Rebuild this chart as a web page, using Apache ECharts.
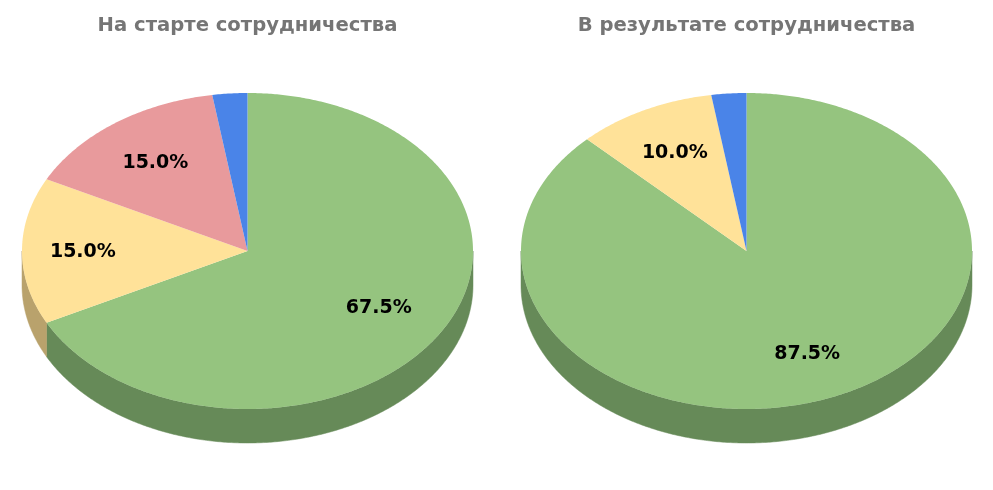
<!DOCTYPE html>
<html>
<head>
<meta charset="utf-8">
<style>html,body{margin:0;padding:0;background:#fff}#chart{width:993px;height:490px}</style>
<script src="https://cdn.jsdelivr.net/npm/echarts@6/dist/echarts.min.js"></script>
</head>
<body>
<div id="chart"></div>
<script>
// Shares of each pie, clockwise from twelve o'clock
const titles = ['На старте сотрудничества', 'В результате сотрудничества'];
const startValues = [67.5, 15.0, 15.0, 2.5];
const resultValues = [87.5, 10.0, 2.5];
const startColors = ['#95c47f', '#ffe299', '#e89a9c', '#4a84e8'];
const resultColors = ['#95c47f', '#ffe299', '#4a84e8'];
const startWalls = ['#668a58', '#b9a26c', '#a06c6e', '#33599f'];
const resultWalls = ['#668a58', '#b9a26c', '#33599f'];
// Distance of each label from the centre, as a fraction of the radius
const startLabelReach = [0.683, 0.73, 0.695, 0.7];
const resultLabelReach = [0.703, 0.7, 0.7];

// Tilted-disc geometry shared by both pies
const RX = 225.5, RY = 158, DEPTH = 34, CY = 251, STEP = 0.5;
const LABEL_DROP = 0.8;
const MIN_LABELLED = 5;

function rimPoint(cx, deg, drop) {
  const a = deg * Math.PI / 180;
  return [cx + RX * Math.sin(a), CY - RY * Math.cos(a) + drop];
}

function arc(cx, from, to, drop) {
  const pts = [];
  for (let d = from; d < to; d += STEP) pts.push(rimPoint(cx, d, drop));
  pts.push(rimPoint(cx, to, drop));
  return pts;
}

function tiltedPie(cx, values, colors, walls, reach) {
  const total = values.reduce((s, v) => s + v, 0);
  let running = 0;
  const data = values.map((v) => {
    const row = [v, running];
    running += v;
    return row;
  });
  return {
    type: 'custom',
    coordinateSystem: 'none',
    silent: true,
    clip: false,
    data: data,
    renderItem: function (params, api) {
      const i = params.dataIndex;
      const value = api.value(0);
      const from = api.value(1) / total * 360;
      const to = from + value / total * 360;
      const children = [];

      // The wall only shows along the near half of the rim
      const wallFrom = Math.max(from, 90), wallTo = Math.min(to, 270);
      if (wallTo > wallFrom) {
        const upper = arc(cx, wallFrom, wallTo, 0);
        const lower = arc(cx, wallFrom, wallTo, DEPTH).reverse();
        children.push({
          type: 'polygon',
          shape: { points: upper.concat(lower) },
          style: { fill: walls[i], stroke: walls[i], lineWidth: 0.5 },
          z2: 1
        });
      }

      children.push({
        type: 'polygon',
        shape: { points: [[cx, CY]].concat(arc(cx, from, to, 0)) },
        style: { fill: colors[i] },
        z2: 2
      });

      if (value >= MIN_LABELLED) {
        const mid = (from + to) / 2 * Math.PI / 180;
        children.push({
          type: 'text',
          x: cx + RX * reach[i] * Math.sin(mid),
          y: CY - RY * reach[i] * Math.cos(mid) + LABEL_DROP,
          style: {
            text: value.toFixed(1) + '%',
            fill: '#000',
            font: 'bold 19px "DejaVu Sans", sans-serif',
            align: 'center',
            verticalAlign: 'middle'
          },
          z2: 3
        });
      }
      return { type: 'group', children: children };
    }
  };
}

const chart = echarts.init(document.getElementById('chart'), null, { renderer: 'canvas' });
chart.setOption({
  animation: false,
  backgroundColor: '#fff',
  title: [247.5, 746.5].map((x, i) => ({
    text: titles[i],
    left: x,
    top: 16,
    padding: 0,
    textAlign: 'center',
    textStyle: { color: '#757575', fontSize: 19.6, fontWeight: 'bold', fontFamily: '"DejaVu Sans", sans-serif' }
  })),
  series: [
    tiltedPie(247.5, startValues, startColors, startWalls, startLabelReach),
    tiltedPie(746.5, resultValues, resultColors, resultWalls, resultLabelReach)
  ]
});
</script>
</body>
</html>
